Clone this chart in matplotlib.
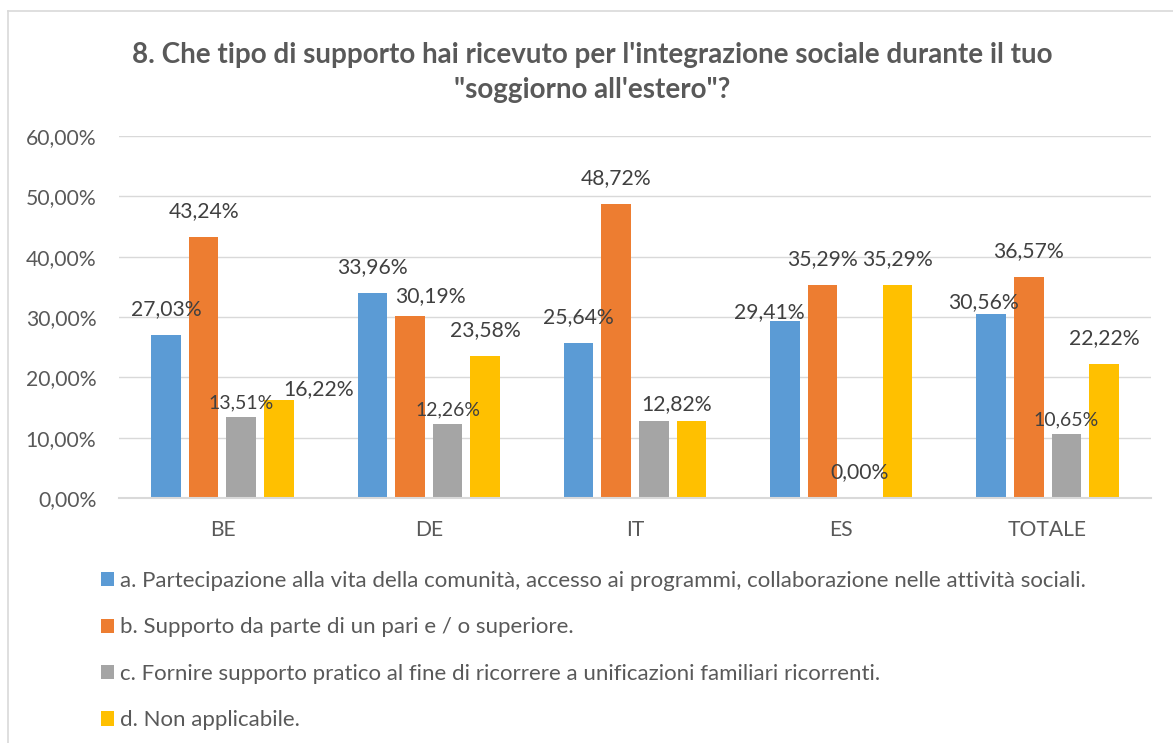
import numpy as np
import matplotlib.pyplot as plt
from matplotlib.lines import Line2D

plt.rcParams['font.family'] = ['Lato', 'DejaVu Sans']

# data
categories = ["BE", "DE", "IT", "ES", "TOTALE"]
series_names = [
    "a. Partecipazione alla vita della comunità, accesso ai programmi, collaborazione nelle attività sociali.",
    "b. Supporto da parte di un pari e / o superiore.",
    "c. Fornire supporto pratico al fine di ricorrere a unificazioni familiari ricorrenti.",
    "d. Non applicabile.",
]
val_a = [27.03, 33.96, 25.64, 29.41, 30.56]
val_b = [43.24, 30.19, 48.72, 35.29, 36.57]
val_c = [13.51, 12.26, 12.82, 0.00, 10.65]
val_d = [16.22, 23.58, 12.82, 35.29, 22.22]
title = "8. Che tipo di supporto hai ricevuto per l'integrazione sociale durante il tuo\n\"soggiorno all'estero\"?"

colors = ["#5B9BD5", "#ED7D31", "#A5A5A5", "#FFC000"]

# label nudges in pixels (dx, dy above bar top), default (0, 26); grey labels are smaller
label_offsets = {
    (0, 3): (40, 11),
    (1, 1): (20, 20),
    (2, 3): (-15, 17),
    (3, 0): (-16, 9),
    (4, 0): (-8, 12),
}
hidden_labels = {(2, 2)}

fig = plt.figure(figsize=(11.73, 7.43), dpi=100)
ax = fig.add_axes([119.3 / 1173, 1 - 498 / 743, 1031.4 / 1173, 361.8 / 743])

x = np.arange(len(categories))
width = 0.143
step = 0.182
all_vals = [val_a, val_b, val_c, val_d]
bars = []
for i, vals in enumerate(all_vals):
    pos = x + (i - 1.5) * step
    b = ax.bar(pos, np.array(vals) / 100, width, color=colors[i], label=series_names[i], zorder=3)
    bars.append(b)
    for j, v in enumerate(vals):
        if (j, i) in hidden_labels:
            continue
        if i == 2 and v > 0:
            dx, dy = label_offsets.get((j, i), (0, 14))
            fs = 14
        else:
            dx, dy = label_offsets.get((j, i), (0, 26))
            fs = 15.2
        txt = f"{v:.2f}".replace(".", ",") + "%"
        ax.annotate(txt, (pos[j], v / 100), xytext=(dx * 0.72, dy * 0.72),
                    textcoords="offset points", ha="center", va="center",
                    fontsize=fs, color="#404040", zorder=4)

ax.set_xlim(-0.5, len(categories) - 0.5)
ax.set_ylim(0, 0.6)
ax.set_yticks(np.arange(0, 0.61, 0.1))
ax.set_yticklabels([f"{t * 100:.2f}".replace(".", ",") + "%" for t in np.arange(0, 0.61, 0.1)])
ax.set_xticks(x)
ax.set_xticklabels(categories)
ax.tick_params(axis="y", length=0, pad=16.5, labelsize=15.2, labelcolor="#595959")
ax.tick_params(axis="x", length=0, pad=16, labelsize=15.2, labelcolor="#595959")
ax.grid(axis="y", color="#D9D9D9", linewidth=1.0, zorder=0)
for s in ["top", "right", "left"]:
    ax.spines[s].set_visible(False)
ax.spines["bottom"].set_color("#D9D9D9")
ax.spines["bottom"].set_linewidth(1.5)
ax.spines["bottom"].set_zorder(3)

fig.text(592 / 1173, 1 - 72.5 / 743, title, ha="center", va="center", fontsize=20,
         fontweight="bold", color="#595959", linespacing=1.45)

fig.legend(handles=bars, labels=series_names, loc="upper left",
           bbox_to_anchor=(101 / 1173, 1 - 571 / 743), frameon=False,
           fontsize=16, labelcolor="#595959", handlelength=0.6, handleheight=0.6,
           handletextpad=0.27, labelspacing=1.19, borderpad=0, borderaxespad=0)

# chart border (top and left edges visible)
fig.add_artist(Line2D([8 / 1173, 8 / 1173], [0, 1 - 11 / 743], transform=fig.transFigure,
                      color="#D9D9D9", linewidth=1.2))
fig.add_artist(Line2D([8 / 1173, 1], [1 - 11 / 743, 1 - 11 / 743], transform=fig.transFigure,
                      color="#D9D9D9", linewidth=1.2))

fig.savefig("out.png", dpi=100)
